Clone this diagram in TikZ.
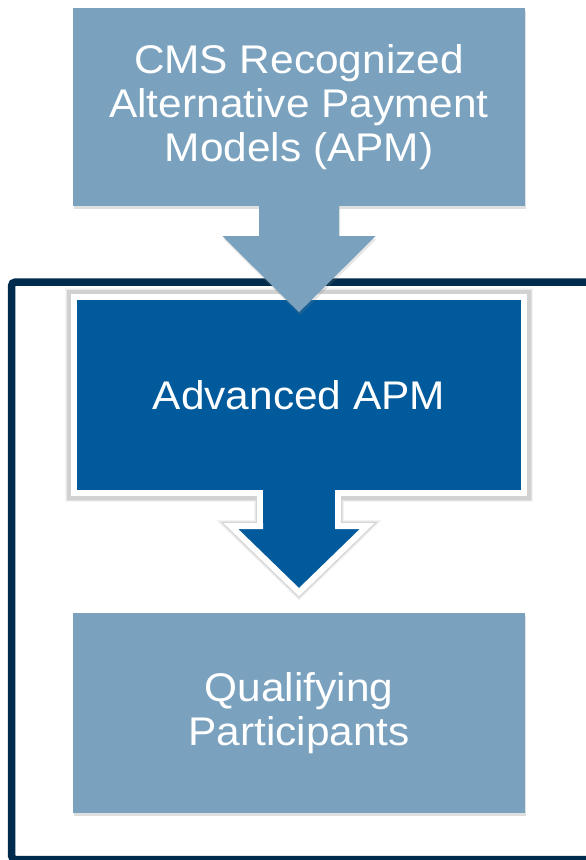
\documentclass[tikz,border=0pt]{standalone}
\usepackage{fontspec}
\setmainfont{Liberation Sans}[FakeStretch=1.06]
\usetikzlibrary{positioning,shadows,backgrounds}

\definecolor{apmlight}{HTML}{7AA2BF}
\definecolor{apmdark}{HTML}{005A9C}
\definecolor{apmnavy}{HTML}{002B4C}

\begin{document}
\begin{tikzpicture}[x=1pt, y=1pt, font=\fontsize{40}{44}\selectfont, text=white]
\tikzset{
  lightbox/.style={rectangle, fill=apmlight, align=center, inner sep=0pt, minimum width=452pt, minimum height=198pt,
    drop shadow={opacity=.25, shadow xshift=1pt, shadow yshift=-3pt}},
  darkbox/.style ={rectangle, fill=apmdark, draw=white, line width=6pt, align=center, inner sep=0pt, minimum width=450pt, minimum height=196pt},
  halo/.style={line join=miter, fill=none}
}
\useasboundingbox (0,0) rectangle (586,-860);
% outer frame, runs off the right and bottom edge
\draw[apmnavy, line width=7.5pt, rounded corners=4pt] (11.5,-282) rectangle (640,-859.5);
\node[lightbox] (cms) at (299,-107) {CMS Recognized\\Alternative Payment\\Models (APM)};
\node[darkbox,  below=88pt of cms] (adv) {Advanced APM};
\node[lightbox, below=117pt of adv, minimum height=200pt] (qp) {Qualifying\\Participants};
% white-edged arrow under Advanced APM, with a soft grey rim
\begin{scope}[on background layer]
\foreach \w/\k in {12/4, 10.5/8, 9/12, 7.5/18} {
  \draw[halo, black!\k, line width=\w pt] (adv.north west) rectangle (adv.south east);
  \draw[halo, black!\k, line width=\w pt]
    ([xshift=-39pt,yshift=10pt]adv.south) -- ++(0,-40) -- ++(-29,0) -- ([yshift=-96pt]adv.south)
    -- ([xshift=68pt,yshift=-30pt]adv.south) -- ++(-29,0) -- ++(0,40) -- cycle;
}
\filldraw[fill=apmdark, draw=white, line width=6pt]
  ([xshift=-39pt,yshift=10pt]adv.south) -- ++(0,-40) -- ++(-29,0) -- ([yshift=-96pt]adv.south)
  -- ([xshift=68pt,yshift=-30pt]adv.south) -- ++(-29,0) -- ++(0,40) -- cycle;
\end{scope}
\fill[apmdark] ([xshift=-36pt,yshift=6pt]adv.south) rectangle ([xshift=36pt,yshift=-27pt]adv.south);
% light arrow from the top box
\fill[apmlight, drop shadow={opacity=.2, shadow xshift=1pt, shadow yshift=-3pt}]
  ([xshift=-40pt,yshift=2pt]cms.south) -- ++(0,-32) -- ++(-36.5,0) -- ([yshift=-106pt]cms.south)
  -- ([xshift=76.5pt,yshift=-30pt]cms.south) -- ++(-36.5,0) -- ++(0,32) -- cycle;
\end{tikzpicture}
\end{document}
